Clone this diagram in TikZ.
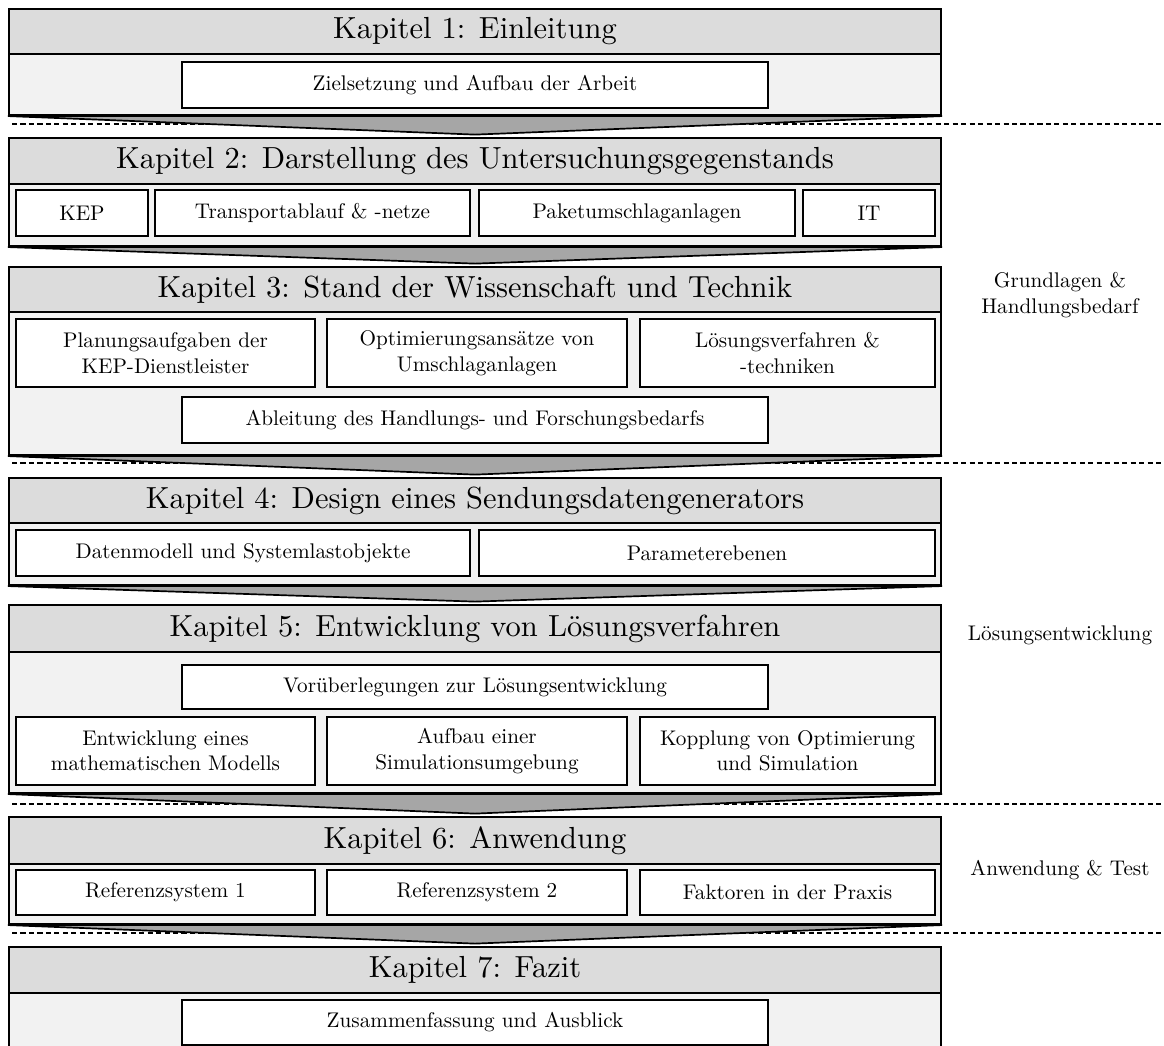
\documentclass[tikz,border=0pt]{standalone}
\usepackage{fontspec}
\usetikzlibrary{positioning}

\newfontfamily\kopffont[Extension=.otf]{lmroman10-regular}
\newcommand\px{0.472pt}
\definecolor{kopfgrau}{HTML}{DCDCDC}
\definecolor{koerpergrau}{HTML}{F2F2F2}
\definecolor{trichtergrau}{HTML}{A6A6A6}

\tikzset{
	kopf/.style={draw, line width=1pt, fill=kopfgrau, minimum width={932*\px}, inner sep=0pt, font=\kopffont\Large},
	koerper/.style={draw, line width=1pt, fill=koerpergrau, minimum width={932*\px}, inner sep=0pt},
	teilbox/.style={draw, line width=0.9pt, fill=white, inner sep=0pt, align=center, font=\normalsize},
	trichter/.style={draw, line width=0.8pt, fill=trichtergrau, line join=miter},
	trenn/.style={line width=0.5pt, dash pattern=on 2.4pt off 1.6pt},
	seite/.style={align=center, font=\normalsize},
}

\begin{document}
\begin{tikzpicture}[x=0.472pt, y=-0.472pt]

\useasboundingbox (0,0) rectangle (1164,1046);

% name, top, header bottom, body bottom, title
\newcommand\kapitel[5]{
	\node[kopf, minimum height={(#3-#2)*\px}] (#1) at (475, {(#2+#3)/2}) {#5};
	\node[koerper, minimum height={(#4-#3)*\px}] (#1-body) at (475, {(#3+#4)/2}) {};
}
% name, x1, y1, x2, y2, text
\newcommand\teil[6]{
	\node[teilbox, minimum width={(#4-#2)*\px}, minimum height={(#5-#3)*\px}] (#1) at ({(#2+#4)/2}, {(#3+#5)/2}) {#6};
}

\foreach \y in {124, 463, 804, 933} {
	\draw[trenn] (12, \y) -- (1164, \y);
}

\kapitel{k1}{9}{54}{115}{Kapitel 1: Einleitung}
\kapitel{k2}{138}{184}{246}{Kapitel 2: Darstellung des Untersuchungsgegenstands}
\kapitel{k3}{267}{312}{455}{Kapitel 3: Stand der Wissenschaft und Technik}
\kapitel{k4}{478}{523}{585}{Kapitel 4: Design eines Sendungsdatengenerators}
\kapitel{k5}{605}{652}{793}{Kapitel 5: Entwicklung von Lösungsverfahren}
\kapitel{k6}{817}{864}{924}{Kapitel 6: Anwendung}
\kapitel{k7}{947}{993}{1052}{Kapitel 7: Fazit}

\teil{ziel}{182}{62}{768}{108}{Zielsetzung und Aufbau der Arbeit}

\teil{kep}{16}{190}{148}{236}{KEP}
\teil{transport}{155}{190}{470}{236}{Transportablauf \& -netze}
\teil{anlagen}{479}{190}{795}{236}{Paketumschlaganlagen}
\teil{it}{803}{190}{935}{236}{IT}

\teil{planung}{16}{319}{315}{387}{Planungsaufgaben der\\KEP-Dienstleister}
\teil{optimierung}{327}{319}{627}{387}{Optimierungsansätze von\\Umschlaganlagen}
\teil{verfahren}{640}{319}{935}{387}{Lösungsverfahren \&\\-techniken}
\teil{bedarf}{182}{397}{768}{443}{Ableitung des Handlungs- und Forschungsbedarfs}

\teil{datenmodell}{16}{530}{470}{576}{Datenmodell und Systemlastobjekte}
\teil{parameter}{479}{530}{935}{576}{Parameterebenen}

\teil{vorueberl}{182}{665}{768}{709}{Vorüberlegungen zur Lösungsentwicklung}
\teil{modell}{16}{717}{315}{785}{Entwicklung eines\\mathematischen Modells}
\teil{simumg}{327}{717}{627}{785}{Aufbau einer\\Simulationsumgebung}
\teil{kopplung}{640}{717}{935}{785}{Kopplung von Optimierung\\und Simulation}

\teil{ref1}{16}{870}{315}{915}{Referenzsystem 1}
\teil{ref2}{327}{870}{627}{915}{Referenzsystem 2}
\teil{praxis}{640}{870}{935}{915}{Faktoren in der Praxis}

\teil{fazit}{182}{1000}{768}{1045}{Zusammenfassung und Ausblick}

\foreach \a/\b in {k1/k2, k2/k3, k3/k4, k4/k5, k5/k6, k6/k7} {
	\coordinate (\a-tip) at ([yshift=1.1pt]\b.north);
	\filldraw[trichter] (\a-body.south west) -- (\a-body.south east) -- (\a-tip) -- cycle;
}

\node[seite] (grundlagen) at (1060, 295) {Grundlagen \&\\Handlungsbedarf};
\node[seite] (loesung) at (1060, 635) {Lösungsentwicklung};
\node[seite] (anwendung) at (1060, 870) {Anwendung \& Test};

\end{tikzpicture}
\end{document}
